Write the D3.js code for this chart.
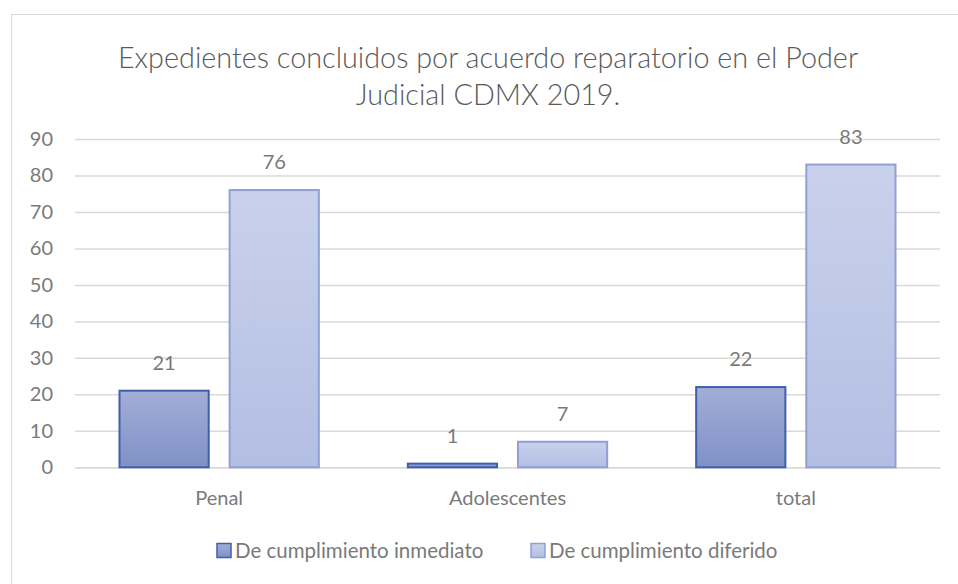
<!DOCTYPE html>
<html>
<head>
<meta charset="utf-8">
<script src="https://cdn.jsdelivr.net/npm/d3@7"></script>
<style>
    body { margin: 0; background: #fff; }
    text { font-family: Lato, sans-serif; fill: #7a7a7a; }
    .title { font-weight: 300; fill: #5a5a5a; }
</style>
</head>
<body>
<svg id="chart" width="958" height="584"></svg>
<script>
    const categories = ['Penal', 'Adolescentes', 'total'];
    const seriesNames = ['De cumplimiento inmediato', 'De cumplimiento diferido'];
    const inmediato = [21, 1, 22];
    const diferido = [76, 7, 83];
    const yTickValues = [0, 10, 20, 30, 40, 50, 60, 70, 80, 90];
    const titleLines = ['Expedientes concluidos por acuerdo reparatorio en el Poder', 'Judicial CDMX 2019.'];

    const svg = d3.select('#chart');
    const margin = { top: 139, right: 18, bottom: 117, left: 75 };
    const width = 958 - margin.left - margin.right;
    const height = 584 - margin.top - margin.bottom;

    const defs = svg.append('defs');
    const grads = [
        { id: 'g0', top: '#a3aed7', bottom: '#7f91c6' },
        { id: 'g1', top: '#c9d1eb', bottom: '#b3bee3' }
    ];
    grads.forEach((g) => {
        const lg = defs.append('linearGradient')
            .attr('id', g.id)
            .attr('x1', 0).attr('y1', 0).attr('x2', 0).attr('y2', 1);
        lg.append('stop').attr('offset', '0%').attr('stop-color', g.top);
        lg.append('stop').attr('offset', '100%').attr('stop-color', g.bottom);
    });
    const strokes = ['#3f5fae', '#8fa0d4'];

    // outer frame
    svg.append('rect')
        .attr('x', 11.5).attr('y', 14.5)
        .attr('width', 958).attr('height', 600)
        .attr('fill', 'none')
        .attr('stroke', '#d9d9d9');

    svg.append('text')
        .attr('class', 'title')
        .attr('x', 488)
        .attr('y', 68)
        .attr('text-anchor', 'middle')
        .style('font-size', '28.8px')
        .selectAll('tspan')
        .data(titleLines)
        .join('tspan')
            .attr('x', 488)
            .attr('dy', (d, i) => i ? 37 : 0)
            .text(d => d);

    const chart = svg.append('g')
        .attr('transform', `translate(${margin.left}, ${margin.top})`);

    const x0 = d3.scaleBand()
        .domain(categories)
        .range([0, width]);
    const x1 = d3.scaleBand()
        .domain([0, 1])
        .range([44.5, x0.bandwidth() - 44.5])
        .paddingInner(0.19);
    const y = d3.scaleLinear()
        .domain([0, 90])
        .range([height + 0.3, 0]);

    const yAxis = d3.axisLeft(y)
        .tickValues(yTickValues)
        .tickSize(-width)
        .tickPadding(22);
    const gy = chart.append('g').call(yAxis);
    gy.select('.domain').remove();
    gy.selectAll('.tick line').attr('stroke', '#d9d9d9').attr('stroke-width', 1.5);
    gy.selectAll('.tick text')
        .style('font-size', '20px')
        .style('fill', '#7a7a7a')
        .attr('font-family', null);

    const xAxis = d3.axisBottom(x0).tickSize(0).tickPadding(24);
    const gx = chart.append('g')
        .attr('transform', `translate(0, ${y(0)})`)
        .call(xAxis);
    gx.select('.domain').attr('stroke', '#d9d9d9').attr('stroke-width', 1.5);
    gx.selectAll('.tick text')
        .style('font-size', '20px')
        .style('fill', '#7a7a7a')
        .attr('font-family', null);

    const series = [inmediato, diferido];
    series.forEach((vals, s) => {
        const g = chart.append('g');
        g.selectAll('rect')
            .data(vals)
            .join('rect')
                .attr('x', (d, i) => x0(categories[i]) + x1(s))
                .attr('y', d => y(d))
                .attr('width', x1.bandwidth())
                .attr('height', d => y(0) - y(d))
                .attr('fill', `url(#g${s})`)
                .attr('stroke', strokes[s])
                .attr('stroke-width', 2);
        g.selectAll('text')
            .data(vals)
            .join('text')
                .attr('x', (d, i) => x0(categories[i]) + x1(s) + x1.bandwidth() / 2)
                .attr('y', d => y(d) - 21)
                .attr('text-anchor', 'middle')
                .style('font-size', '20px')
                .text(d => d);
    });

    // legend
    const legendX = [217, 531];
    const legend = svg.append('g');
    seriesNames.forEach((name, s) => {
        legend.append('rect')
            .attr('x', legendX[s]).attr('y', 543.5)
            .attr('width', 14).attr('height', 14)
            .attr('fill', `url(#g${s})`)
            .attr('stroke', strokes[s])
            .attr('stroke-width', 1.5);
        legend.append('text')
            .attr('x', legendX[s] + 18)
            .attr('y', 558)
            .style('font-size', '20.5px')
            .text(name);
    });
</script>
</body>
</html>
